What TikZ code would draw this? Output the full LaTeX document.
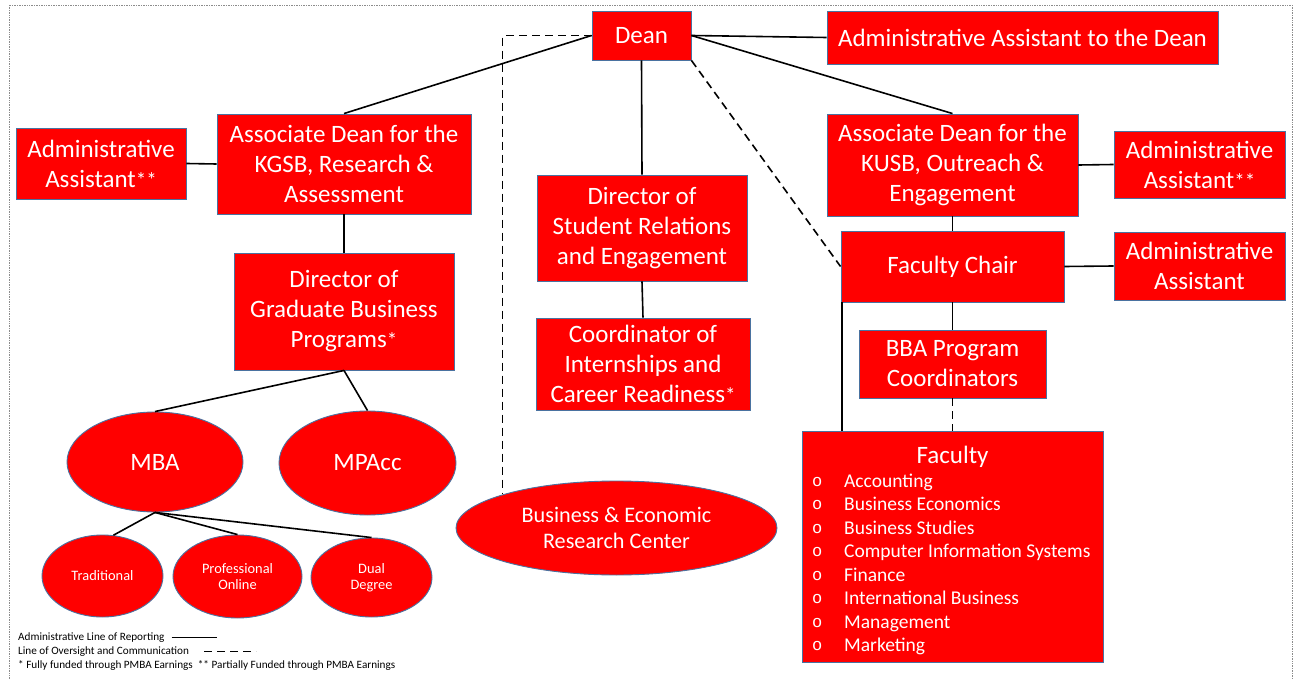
\documentclass[tikz,border=0pt]{standalone}
\usepackage{fontspec}
\setmainfont{Carlito}
\newfontfamily\bulletfont{Liberation Mono}
\usetikzlibrary{shapes.geometric,calc}
\definecolor{boxred}{HTML}{FF0000}
\definecolor{edgeblue}{HTML}{4A72A0}
\definecolor{framegray}{HTML}{8C8C8C}
\newcommand\fundmark[1]{{\fontsize{21}{21}\selectfont #1}}

\begin{document}
\begin{tikzpicture}[x=1pt,y=-1pt,
  box/.style={draw=edgeblue, line width=0.9pt, fill=boxred, text=white,
    align=center, inner sep=0pt, font=\fontsize{25}{30}\selectfont},
  oval/.style={ellipse, draw=edgeblue, line width=0.9pt, fill=boxred, text=white,
    align=center, inner sep=0pt},
  link/.style={line width=1.6pt, black},
  oversight/.style={line width=1.6pt, black, dash pattern=on 8pt off 5pt},
  item/.style={anchor=base west, inner sep=0pt, text=white, font=\fontsize{19.5}{19.5}\selectfont},
  legendtext/.style={anchor=west, inner sep=0pt, font=\fontsize{11.2}{11.2}\selectfont},
]
\useasboundingbox (0,0) rectangle (1294,679);
\draw[framegray, densely dotted, line width=0.7pt] (9,5) rectangle (1292,700);

% --- top level
\node[box, minimum width=99pt, minimum height=49pt] (dean) at (641.5,35.5) {Dean};
\node[box, minimum width=391pt, minimum height=53pt] (adean) at (1022.5,37.5) {Administrative Assistant to the Dean};

% --- graduate side
\node[box, minimum width=254pt, minimum height=100pt] (kgsb) at (344,164) {Associate Dean for the\\KGSB, Research \&\\Assessment};
\node[box, minimum width=170pt, minimum height=71pt] (aa1) at (101,163.5) {Administrative\\Assistant\fundmark{**}};
\node[box, minimum width=220pt, minimum height=117pt] (dgbp) at (344,311.5) {Director of\\Graduate Business\\Programs\fundmark{*}};
\node[oval, minimum width=176pt, minimum height=100pt, font=\fontsize{25}{25}\selectfont] (mba) at (155,462) {MBA};
\node[oval, minimum width=177pt, minimum height=104pt, font=\fontsize{25}{25}\selectfont] (mpacc) at (367.5,463) {MPAcc};
\node[oval, minimum width=121pt, minimum height=82pt, font=\fontsize{14.4}{16.5}\selectfont] (trad) at (102.5,576) {Traditional};
\node[oval, minimum width=129pt, minimum height=83pt, font=\fontsize{14.4}{16.5}\selectfont] (prof) at (237.5,576.5) {Professional\\Online};
\node[oval, minimum width=121pt, minimum height=79pt, font=\fontsize{14.4}{16.5}\selectfont] (dual) at (371.5,577.5) {Dual\\Degree};

% --- centre column
\node[box, minimum width=210pt, minimum height=106pt] (dsr) at (642,228) {Director of\\Student Relations\\and Engagement};
\node[box, minimum width=214pt, minimum height=92pt] (cir) at (643,364) {Coordinator of\\Internships and\\Career Readiness\fundmark{*}};
\node[oval, minimum width=321pt, minimum height=94pt, font=\fontsize{22.2}{26.5}\selectfont] (berc) at (616.5,528) {Business \& Economic\\Research Center};

% --- undergraduate side
\node[box, minimum width=251pt, minimum height=102pt] (kusb) at (952.5,165) {Associate Dean for the\\KUSB, Outreach \&\\Engagement};
\node[box, minimum width=171pt, minimum height=67pt] (aa2) at (1199.5,164.5) {Administrative\\Assistant\fundmark{**}};
\node[box, minimum width=223pt, minimum height=71pt] (chair) at (952.5,266.5) {Faculty Chair};
\node[box, minimum width=171pt, minimum height=68pt] (aa3) at (1199.5,266) {Administrative\\Assistant};
\node[box, minimum width=187pt, minimum height=68pt] (bba) at (952.5,364) {BBA Program\\Coordinators};
\node[box, minimum width=301pt, minimum height=231pt] (fac) at (952.5,546.5) {};
\node[anchor=base, inner sep=0pt, text=white, font=\fontsize{25}{25}\selectfont] (factitle) at (952.5,463) {Faculty};
\foreach \name [count=\i from 0] in {Accounting, Business Economics, Business Studies,
    Computer Information Systems, Finance, International Business, Management, Marketing}{
  \node[item, font=\bulletfont\fontsize{17}{17}\selectfont] (fb\i) at (812,486+23.5*\i) {o};
  \node[item] (fi\i) at (844,487+23.5*\i) {\name};
}

% --- lines of reporting
\draw[link] (dean.west) -- (kgsb.north);
\draw[link] (dean.east) -- (adean.west);
\draw[link] (dean.east) -- (kusb.north);
\draw[link] (dean.south) -- (dsr.north);
\draw[link] (kgsb.west) -- (aa1.east);
\draw[link] (kgsb.south) -- (dgbp.north);
\draw[link] (dgbp.south) -- (mba.north);
\draw[link] (dgbp.south) -- (mpacc.north);
\draw[link] (mba.south) -- (trad.75);
\draw[link] (mba.south) -- (prof.north);
\draw[link] (mba.south) -- (dual.north);
\draw[link] (dsr.south) -- (cir.north);
\draw[link] (kusb.east) -- (aa2.west);
\draw[link] (kusb.south) -- (chair.north);
\draw[link] (chair.east) -- (aa3.west);
\draw[link] (chair.south) -- (bba.north);
\coordinate (chairdrop) at ($(chair.south west)+(1.5,0)$);
\draw[link] (chairdrop) -- (chairdrop |- fac.north);

% --- lines of oversight
\draw[oversight] (dean.west) -| (berc.north west);
\draw[oversight] (dean.south east) -- (chair.west);
\draw[oversight] (bba.south) -- (fac.north);

% --- legend
\node[legendtext] (legA) at (18,637.5) {Administrative Line of Reporting};
\node[legendtext] (legB) at (18,651.5) {Line of Oversight and Communication};
\node[legendtext] (legC) at (18,665.5) {* Fully funded through PMBA Earnings\ \ ** Partially Funded through PMBA Earnings};
\coordinate (legAend) at ($(legA.east)+(52,0)$);
\coordinate (legBend) at ($(legB.east)+(67,0)$);
\draw[line width=1.9pt] ($(legA.east)+(7,0)$) -- (legAend);
\draw[line width=1.9pt, dash pattern=on 8pt off 5pt] ($(legB.east)+(15,0)$) -- (legBend);
\end{tikzpicture}
\end{document}
